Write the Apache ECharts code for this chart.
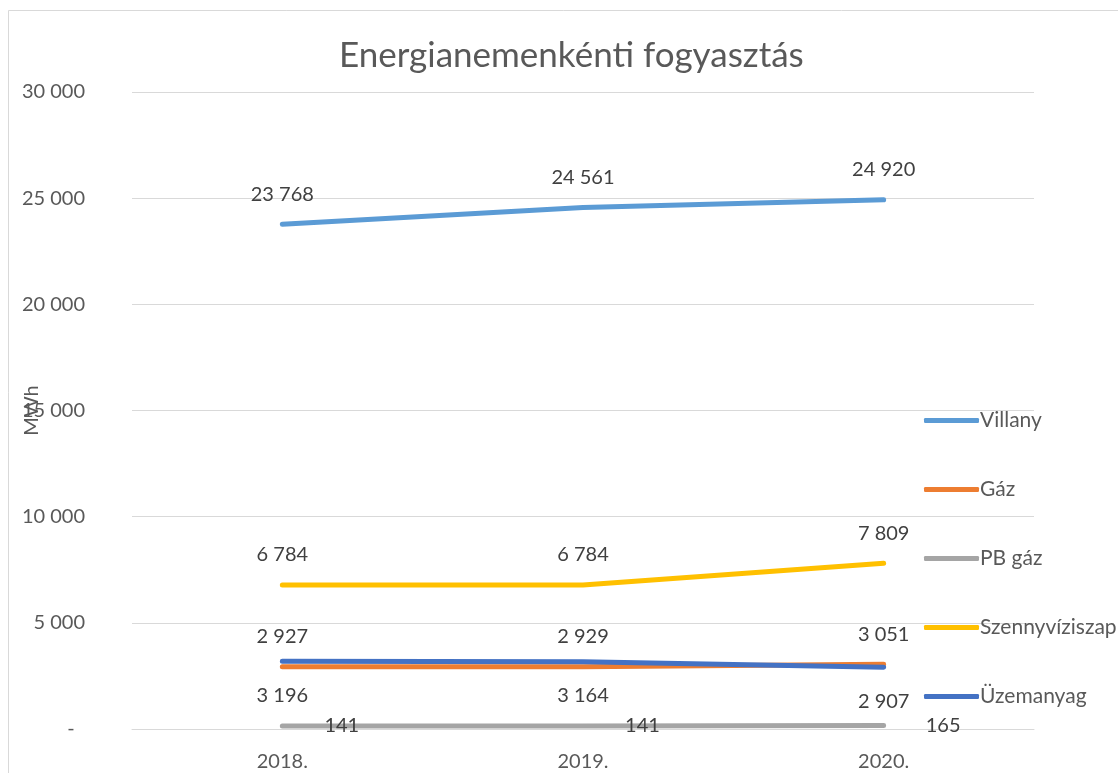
<!DOCTYPE html>
<html>
<head>
<meta charset="utf-8">
<script src="https://cdn.jsdelivr.net/npm/echarts@6/dist/echarts.min.js"></script>
<style>
  html, body { margin: 0; padding: 0; background: #fff; }
  #chart { width: 1118px; height: 773px; }
</style>
</head>
<body>
<div id="chart"></div>
<script>
const years = ['2018.', '2019.', '2020.']
const villany = [23768, 24561, 24920]
const gaz = [2927, 2929, 3051]
const pbGaz = [141, 141, 165]
const szennyviziszap = [6784, 6784, 7809]
const uzemanyag = [3196, 3164, 2907]

const FONT = 'Lato'
const fmt = (v) => v === 0 ? '-  ' : String(v).replace(/\B(?=(\d{3})+(?!\d))/g, ' ')

function makeSeries(name, data, color, labelPos, labelDist) {
  return {
    name: name,
    type: 'line',
    data: data,
    symbol: 'circle',
    symbolSize: 0.1,
    lineStyle: { width: 5, color: color, cap: 'round' },
    itemStyle: { color: color },
    label: {
      show: true,
      position: labelPos,
      distance: labelDist,
      color: '#404040',
      fontFamily: FONT,
      fontSize: 20,
      formatter: (p) => fmt(p.value)
    }
  }
}

const chart = echarts.init(document.getElementById('chart'))
chart.setOption({
  animation: false,
  backgroundColor: '#fff',
  graphic: [{
    type: 'rect',
    shape: { x: 8.5, y: 10.5, width: 1300, height: 900 },
    style: { fill: 'none', stroke: '#d9d9d9', lineWidth: 1 },
    silent: true
  }],
  title: {
    text: 'Energianemenkénti fogyasztás',
    left: 334,
    top: 33,
    textStyle: { color: '#595959', fontFamily: FONT, fontSize: 35, fontWeight: 'normal' }
  },
  legend: {
    orient: 'vertical',
    left: 919,
    top: 405,
    itemGap: 48,
    itemWidth: 55,
    itemHeight: 5,
    icon: 'roundRect',
    textStyle: { color: '#595959', fontFamily: FONT, fontSize: 21, padding: [0, 0, 0, -4] },
    data: ['Villany', 'Gáz', 'PB gáz', 'Szennyvíziszap', 'Üzemanyag']
  },
  grid: { left: 132, right: 84, top: 92, bottom: 44, containLabel: false, outerBoundsMode: 'none' },
  xAxis: {
    type: 'category',
    data: years,
    boundaryGap: true,
    axisLine: { show: true, lineStyle: { color: '#d9d9d9', width: 1 } },
    axisTick: { show: false },
    axisLabel: { color: '#595959', fontFamily: FONT, fontSize: 20, margin: 23 }
  },
  yAxis: {
    type: 'value',
    min: 0,
    max: 30000,
    interval: 5000,
    name: 'MWh',
    nameLocation: 'middle',
    nameGap: 90,
    nameMoveOverlap: false,
    nameTextStyle: { color: '#595959', fontFamily: FONT, fontSize: 20 },
    axisLine: { show: false },
    axisTick: { show: false },
    axisLabel: { color: '#595959', fontFamily: FONT, fontSize: 20, margin: 47, formatter: fmt },
    splitLine: { lineStyle: { color: '#d9d9d9', width: 1 } }
  },
  series: [
    makeSeries('Villany', villany, '#5B9BD5', 'top', 20),
    makeSeries('Gáz', gaz, '#ED7D31', 'top', 20),
    makeSeries('PB gáz', pbGaz, '#A5A5A5', 'right', 42),
    makeSeries('Szennyvíziszap', szennyviziszap, '#FFC000', 'top', 20),
    makeSeries('Üzemanyag', uzemanyag, '#4472C4', 'bottom', 24)
  ]
})
</script>
</body>
</html>
